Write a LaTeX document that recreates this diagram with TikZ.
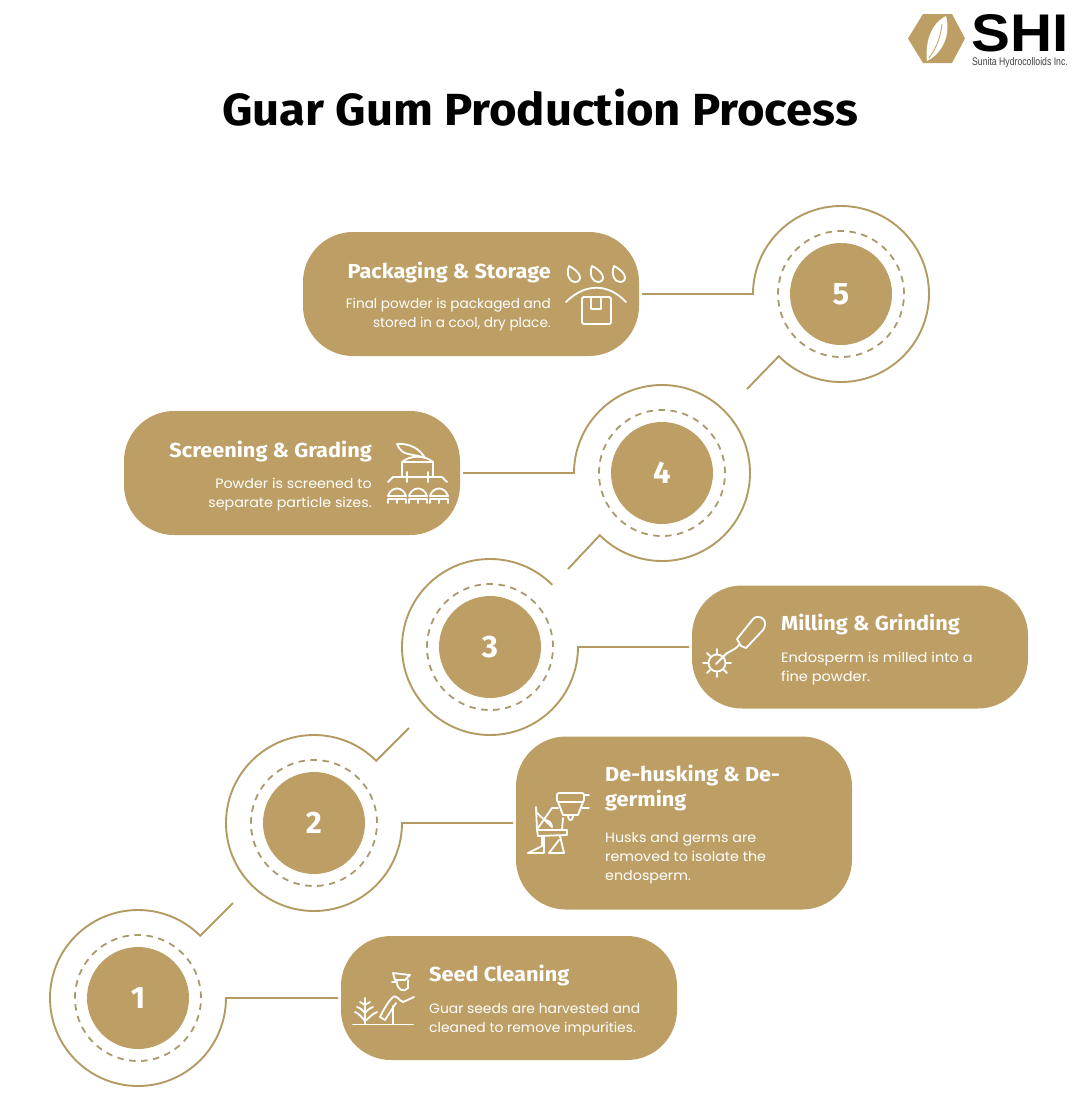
\documentclass[tikz,border=0pt]{standalone}
\usepackage{fontspec}
\setmainfont{Poppins}
\newfontfamily\titlefont{Fira Sans}
\newfontfamily\logofont{Liberation Sans}
\definecolor{guar}{HTML}{BD9F65}
\definecolor{guarline}{HTML}{B39A63}
\definecolor{guardash}{HTML}{A89A6C}
\tikzset{
	pill/.style={fill=guar,rounded corners=50pt,minimum width=336pt,inner sep=0pt,outer sep=0pt},
	stepdot/.style={circle,fill=guar,minimum size=102pt,inner sep=0pt,text=white,font=\fontsize{31}{31}\titlefont\bfseries},
	stepdash/.style={circle,draw=guardash,line width=1.8pt,dash pattern=on 6.5pt off 5.5pt,minimum size=126pt,inner sep=0pt},
	ring/.style={circle,minimum size=176pt,inner sep=0pt,outer sep=0pt},
	link/.style={draw=guarline,line width=1.9pt},
	head/.style={text=white,inner sep=0pt,xscale=1.07,font=\fontsize{20.3}{25}\titlefont\bfseries,align=left},
	body/.style={text=white,inner sep=0pt,font=\fontsize{13.6}{19}\selectfont,align=left},
	icon/.style={draw=white,line width=1.8pt,line cap=round,line join=round},
}
\begin{document}
\begin{tikzpicture}[x=1pt,y=-1pt]
	\useasboundingbox (0,0) rectangle (1080,1104);
	% title and logo
	\node[anchor=base,inner sep=0pt,xscale=1.05,font=\fontsize{45}{45}\titlefont\bfseries] (title) at (540,125) {Guar Gum Production Process};
	\fill[guar] (908,38.5)--(923,14)--(952,14)--(965,38.5)--(952,63)--(923,63)--cycle;
	\fill[white] (946,16) .. controls (930,24) and (925,44) .. (927,61) .. controls (943,53) and (951,34) .. (946,16);
	\draw[guar,line width=0.8pt] (929,58) .. controls (938,46) and (941,34) .. (942,24);
	\node[anchor=west,inner sep=0pt,xscale=1.1,font=\fontsize{53}{53}\logofont\bfseries] (shi) at (971,33) {SHI};
	\node[anchor=west,inner sep=0pt,xscale=0.79,font=\fontsize{11}{11}\logofont,text=black!75] (sunita) at (972,63) {Sunita Hydrocolloids Inc.};
	% pills
	\node[pill,minimum height=124pt] (seed) at (509,998) {};
	\node[pill,minimum height=173pt] (husk) at (684,823) {};
	\node[pill,minimum height=123pt] (mill) at (860,647) {};
	\node[pill,minimum height=124pt] (screen) at (292,473) {};
	\node[pill,minimum height=124pt] (pack) at (471,294) {};
	% step circles
	\node[stepdash] (dash1) at (138,998) {};
	\node[stepdash] (dash2) at (314,823) {};
	\node[stepdash] (dash3) at (490,647) {};
	\node[stepdash] (dash4) at (662,473) {};
	\node[stepdash] (dash5) at (841,294) {};
	\node[stepdot] (dot1) at (138,998) {1};
	\node[stepdot] (dot2) at (314,823) {2};
	\node[stepdot] (dot3) at (490,647) {3};
	\node[stepdot] (dot4) at (662,473) {4};
	\node[stepdot] (dot5) at (841,294) {5};
	\node[ring] (ring1) at (138,998) {};
	\node[ring] (ring2) at (314,823) {};
	\node[ring] (ring3) at (490,647) {};
	\node[ring] (ring4) at (662,473) {};
	\node[ring] (ring5) at (841,294) {};
	% free ends of the slanted strokes
	\coordinate (tail1) at (233,903);
	\coordinate (tail2) at (409,728);
	\coordinate (tail4) at (568,569);
	\coordinate (tail5) at (747,389);
	% rings with their connectors, y runs downwards so the angles are negative
	\draw[link] (tail1)--(ring1.45) arc [start angle=-45,end angle=-360,radius=88]--([xshift=-3pt]seed.west);
	\draw[link] (tail2)--(ring2.45) arc [start angle=-45,end angle=-360,radius=88]--([xshift=-3pt]husk.west);
	\draw[link] (ring3.45) arc [start angle=-45,end angle=-360,radius=88]--([xshift=-3pt]mill.west);
	\draw[link] (tail4)--(ring4.225) arc [start angle=-225,end angle=-540,radius=88]--([xshift=3pt]screen.east);
	\draw[link] (tail5)--(ring5.225) arc [start angle=-225,end angle=-540,radius=88]--([xshift=3pt]pack.east);
	% texts, a node of several lines sits on its last line
	\node[head,anchor=base west] (seedh) at (429,981) {Seed Cleaning};
	\node[body,anchor=base west,xscale=1.02] (seedb) at (429,1032) {Guar seeds are harvested and\\cleaned to remove impurities.};
	\node[head,anchor=base west] (huskh) at (605,806) {De-husking \& De-\\germing};
	\node[body,anchor=base west,xscale=1.05] (huskb) at (605,880) {Husks and germs are\\removed to isolate the\\endosperm.};
	\node[head,anchor=base west] (millh) at (781,630) {Milling \& Grinding};
	\node[body,anchor=base west,xscale=1.07] (millb) at (781,681) {Endosperm is milled into a\\fine powder.};
	\node[head,anchor=base east,align=right] (screenh) at (372,457) {Screening \& Grading};
	\node[body,anchor=base east,align=right,xscale=1.05] (screenb) at (372,507) {Powder is screened to\\separate particle sizes.};
	\node[head,anchor=base east,align=right] (packh) at (551,278) {Packaging \& Storage};
	\node[body,anchor=base east,align=right] (packb) at (551,327) {Final powder is packaged and\\stored in a cool, dry place.};
	% icon packaging
	\draw[icon] (569,266) .. controls (566,274) and (569,282) .. (575,282) .. controls (582,282) and (583,273) .. (569,266);
	\draw[icon] (592,266) .. controls (589,274) and (592,282) .. (598,282) .. controls (605,282) and (606,273) .. (592,266);
	\draw[icon] (614,266) .. controls (611,274) and (614,282) .. (620,282) .. controls (627,282) and (628,273) .. (614,266);
	\draw[icon] (566,302) .. controls (585,283) and (608,283) .. (626,302);
	\draw[icon,rounded corners=1.5pt] (582,297) rectangle (611,324);
	\draw[icon] (591,297)--(591,309)--(601,309)--(601,297);
	% icon screening
	\draw[icon] (397,444) .. controls (410,443) and (420,449) .. (425,458) .. controls (418,455) and (408,455) .. (403,452) .. controls (400,450) and (398,447) .. (397,444);
	\draw[icon] (402,477)--(402,462) .. controls (410,455) and (425,455) .. (433,462)--(433,477);
	\draw[icon] (402,462)--(433,462);
	\draw[icon] (388,482)--(393,477)--(442,477)--(447,482);
	\draw[icon] (407,472)--(407,482) (428,472)--(428,482);
	\draw[icon] (388,496) .. controls (391,486) and (403,486) .. (406,496)--cycle;
	\draw[icon] (409,496) .. controls (412,486) and (424,486) .. (427,496)--cycle;
	\draw[icon] (430,496) .. controls (433,486) and (445,486) .. (448,496)--cycle;
	\draw[icon] (388,499)--(406,499) (388,499)--(388,503) (397,499)--(397,503) (406,499)--(406,503);
	\draw[icon] (409,499)--(427,499) (409,499)--(409,503) (418,499)--(418,503) (427,499)--(427,503);
	\draw[icon] (430,499)--(448,499) (430,499)--(430,503) (439,499)--(439,503) (448,499)--(448,503);
	% icon milling
	\draw[icon] (737,639)--(753,619) .. controls (758,614) and (766,618) .. (765,625) .. controls (765,627) and (764,628) .. (763,630)--(746,648)--(741,646)--cycle;
	\draw[icon] (739,645) .. controls (733,652) and (727,651) .. (723,657)--(716,664);
	\draw[icon] (717,663) circle [radius=8.5];
	\draw[icon] (717,649)--(717,654) (717,672)--(717,677) (703,663)--(708,663) (726,663)--(731,663) (707,653)--(710,656) (724,670)--(727,673) (707,673)--(710,670) (724,656)--(727,653);
	% icon de-husking
	\draw[icon,rounded corners=2pt] (557,793) rectangle (584,802);
	\draw[icon] (558,802)--(563,815)--(578,815)--(583,802);
	\draw[icon] (584,795)--(589,795) (582,808)--(589,808);
	\draw[icon] (568,815) .. controls (568,822) and (573,822) .. (573,815);
	\draw[icon] (536,807)--(537,830)--(567,830)--(567,835)--(538,836)--(537,830);
	\draw[icon] (536,812)--(552,827) (552,808)--(538,828) (552,808)--(558,808) (544,820) .. controls (549,820) and (552,823) .. (552,827) (563,818)--(562,830);
	\draw[icon] (542,836)--(542,846)--(528,853)--(544,853)--(544,836) (560,836)--(564,853)--(549,853)--(559,840);
	% icon seed cleaning
	\draw[icon] (393,973)--(410,975)--(405,980)--(395,980)--cycle;
	\draw[icon] (392,982)--(397,982);
	\draw[icon] (397,982) .. controls (397,990) and (404,993) .. (408,988)--(408,980);
	\draw[icon] (380,1017) .. controls (384,1009) and (388,1002) .. (392,998) .. controls (396,993) and (399,1001) .. (403,1002)--(414,997);
	\draw[icon] (380,1017)--(385,1020)--(396,1003);
	\draw[icon] (393,1006)--(393,1024);
	\draw[icon] (353,1024.5)--(413,1024.5);
	\draw[icon] (365,998)--(365,1024);
	\draw[icon] (360,1002)--(365,1005)--(370,1002);
	\draw[icon] (357,1007) .. controls (361,1008) and (363,1011) .. (365,1013) .. controls (367,1011) and (369,1008) .. (373,1007);
	\draw[icon] (355,1012) .. controls (360,1014) and (362,1018) .. (365,1021) .. controls (369,1018) and (372,1014) .. (377,1012);
\end{tikzpicture}
\end{document}
